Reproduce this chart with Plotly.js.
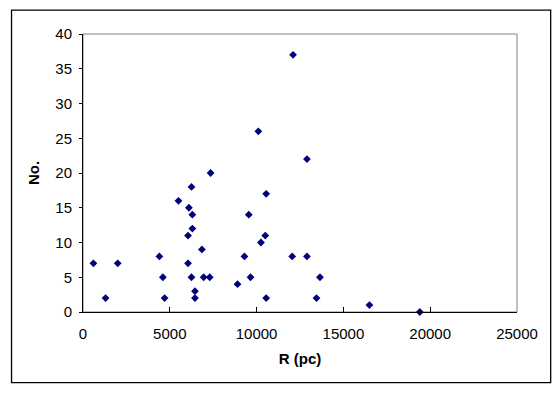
<!DOCTYPE html>
<html>
<head>
<meta charset="utf-8">
<script src="https://cdn.plot.ly/plotly-3.0.1.min.js"></script>
<style>html,body{margin:0;padding:0;background:#fff;}#chart{width:560px;height:400px;}</style>
</head>
<body>
<div id="chart"></div>
<script>
const R_pc = [600, 1300, 2000, 4400, 4600, 4700, 5500, 6100, 6250, 6300, 6300, 6050, 6050, 6250, 6450, 6450, 6850, 6950, 7300, 7350, 8900, 9300, 9550, 9650, 10100, 10250, 10500, 10550, 10550, 12050, 12100, 12900, 12900, 13450, 13650, 16500, 19400];
const No = [7, 2, 7, 8, 5, 2, 16, 15, 18, 14, 12, 11, 7, 5, 3, 2, 9, 5, 5, 20, 4, 8, 14, 5, 26, 10, 11, 17, 2, 8, 37, 8, 22, 2, 5, 1, 0];
const xTicks = [0, 5000, 10000, 15000, 20000, 25000];
const yTicks = [0, 5, 10, 15, 20, 25, 30, 35, 40];

const tickFont = {family: '"Liberation Sans", Arial, sans-serif', size: 15, color: '#000'};
const titleFont = {family: '"Liberation Sans", Arial, sans-serif', size: 15, color: '#000'};

Plotly.newPlot('chart', [{
  type: 'scatter', mode: 'markers', x: R_pc, y: No,
  marker: {symbol: 'diamond', size: 6, color: '#00007a'},
  cliponaxis: false, hoverinfo: 'skip'
}], {
  width: 560, height: 400,
  margin: {l: 83, r: 43, t: 34, b: 88, pad: 0},
  paper_bgcolor: '#fff', plot_bgcolor: '#fff',
  font: tickFont,
  showlegend: false,
  xaxis: {
    range: [0, 25000], tickvals: xTicks, ticktext: xTicks.map(String),
    showgrid: false, zeroline: false, showline: true, linecolor: '#000', linewidth: 1,
    ticks: 'inside', ticklen: 5, tickcolor: '#000', tickfont: tickFont, ticklabelstandoff: 8,
    title: {text: '<b>R (pc)</b>', font: titleFont, standoff: 12}
  },
  yaxis: {
    range: [0, 40], tickvals: yTicks, ticktext: yTicks.map(String),
    showgrid: false, zeroline: false, showline: true, linecolor: '#000', linewidth: 1,
    ticks: 'outside', ticklen: 3, tickcolor: '#000', tickfont: tickFont, ticklabelstandoff: 4,
    title: {text: '<b>No.</b>', font: titleFont, standoff: 12}
  },
  shapes: [
    {type: 'rect', xref: 'paper', yref: 'paper', x0: 0, x1: 1, y0: 0, y1: 1, line: {color: '#808080', width: 1}, layer: 'below'},
    {type: 'rect', xref: 'paper', yref: 'paper', x0: -0.1647, x1: 1.0776, y0: -0.2543, y1: 1.0856, line: {color: '#000', width: 1.3}, layer: 'below'}
  ]
}, {staticPlot: true});
</script>
</body>
</html>
